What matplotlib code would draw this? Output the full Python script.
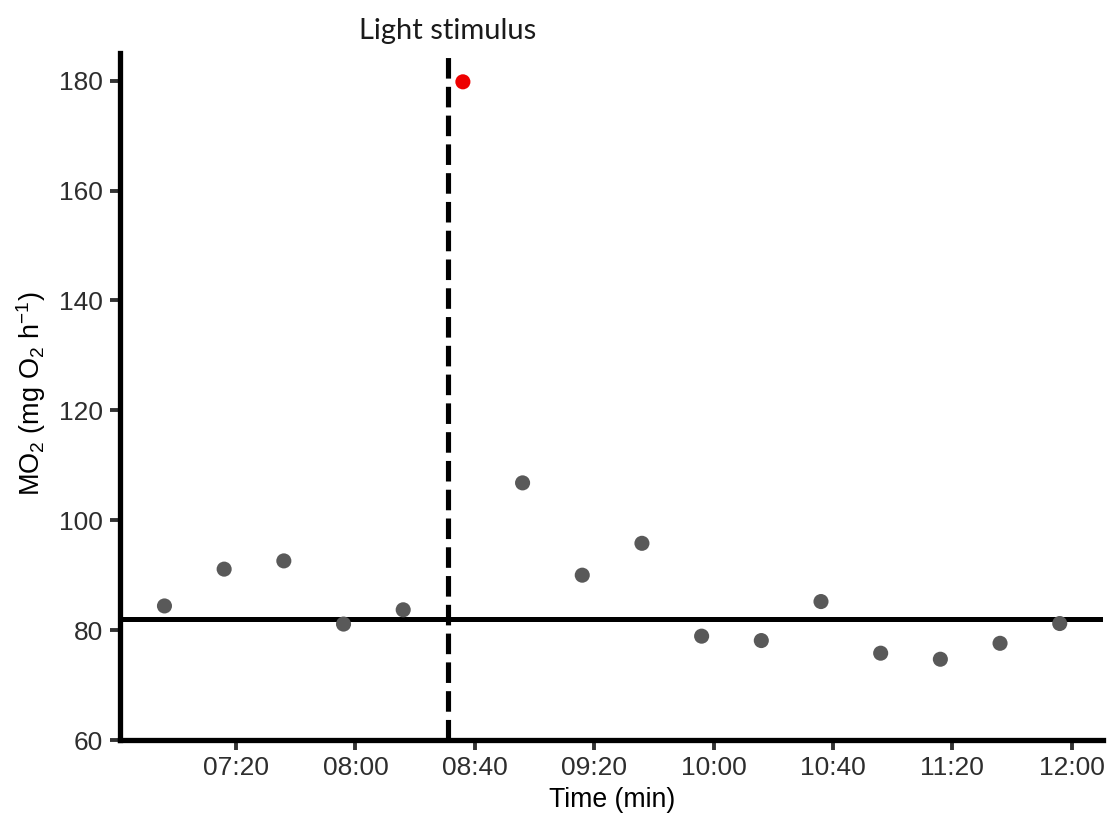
import matplotlib
matplotlib.use("Agg")
import matplotlib.pyplot as plt
from matplotlib.ticker import FixedLocator, FixedFormatter
from matplotlib.transforms import blended_transform_factory

plt.rcParams["font.family"] = ["Liberation Sans", "DejaVu Sans"]
plt.rcParams["mathtext.default"] = "regular"

# Oxygen uptake measurements (clock time, MO2)
times = ["06:56", "07:16", "07:36", "07:56", "08:16", "08:36", "08:56", "09:16",
         "09:36", "09:56", "10:16", "10:36", "10:56", "11:16", "11:36", "11:56"]
mo2 = [84.4, 91.1, 92.6, 81.1, 83.7, 179.8, 106.8, 90.0,
       95.8, 78.9, 78.1, 85.2, 75.8, 74.7, 77.6, 81.2]
highlight = [False, False, False, False, False, True, False, False,
             False, False, False, False, False, False, False, False]

baseline_mo2 = 82.0
stimulus_time = "08:31"
stimulus_label = "Light stimulus"

x_tick_labels = ["07:20", "08:00", "08:40", "09:20", "10:00", "10:40", "11:20", "12:00"]
y_ticks = [60, 80, 100, 120, 140, 160, 180]


def to_minutes(hhmm):
    h, m = hhmm.split(":")
    return int(h) * 60 + int(m)


t_min = [to_minutes(t) for t in times]
x_ticks = [to_minutes(t) for t in x_tick_labels]
t_stim = to_minutes(stimulus_time)

W, H = 1114, 814
fig = plt.figure(figsize=(W / 100, H / 100), dpi=100)
ax = fig.add_axes([120 / W, (H - 740) / H, (1103 - 120) / W, (740 - 52.7) / H])

ax.set_xlim(401.1, 730.5)
ax.set_ylim(60, 185.1)

# reference lines
ax.axhline(baseline_mo2, color="black", lw=3.6, zorder=2)
ax.axvline(t_stim, color="black", lw=3.7, dashes=(4.0, 1.6), zorder=2)

# points
grey_t = [t for t, h in zip(t_min, highlight) if not h]
grey_v = [v for v, h in zip(mo2, highlight) if not h]
red_t = [t for t, h in zip(t_min, highlight) if h]
red_v = [v for v, h in zip(mo2, highlight) if h]
ax.scatter(grey_t, grey_v, s=118, color="#595959", edgecolors="none", zorder=3)
ax.scatter(red_t, red_v, s=118, color="#ee0000", edgecolors="none", zorder=3)

# axes styling
for side in ("top", "right"):
    ax.spines[side].set_visible(False)
for side in ("left", "bottom"):
    ax.spines[side].set_linewidth(3.8)
    ax.spines[side].set_color("black")

ax.xaxis.set_major_locator(FixedLocator(x_ticks))
ax.xaxis.set_major_formatter(FixedFormatter(x_tick_labels))
ax.yaxis.set_major_locator(FixedLocator(y_ticks))
ax.tick_params(axis="both", which="major", direction="out", length=7, width=2.8,
               color="#333333", labelsize=19, labelcolor="#2e2e2e")
ax.tick_params(axis="x", pad=4.5)
ax.tick_params(axis="y", pad=5)

fig.text(612.5 / W, 1 - 806.7 / H, "Time (min)", ha="center", va="baseline",
         fontsize=19.2, color="black")
fig.text(31 / W, 1 - 393.5 / H, r"MO$_2$ (mg O$_2$ h$^{-1}$)", rotation=90,
         ha="center", va="center", fontsize=19.5, color="black")

stim_tf = blended_transform_factory(ax.transData, fig.transFigure)
ax.text(t_stim, 1 - 39.3 / H, stimulus_label, transform=stim_tf,
        ha="center", va="baseline", fontsize=21,
        family=["Lato", "DejaVu Sans"], color="#1a1a1a")

fig.savefig("out.png", dpi=100, facecolor="white")
